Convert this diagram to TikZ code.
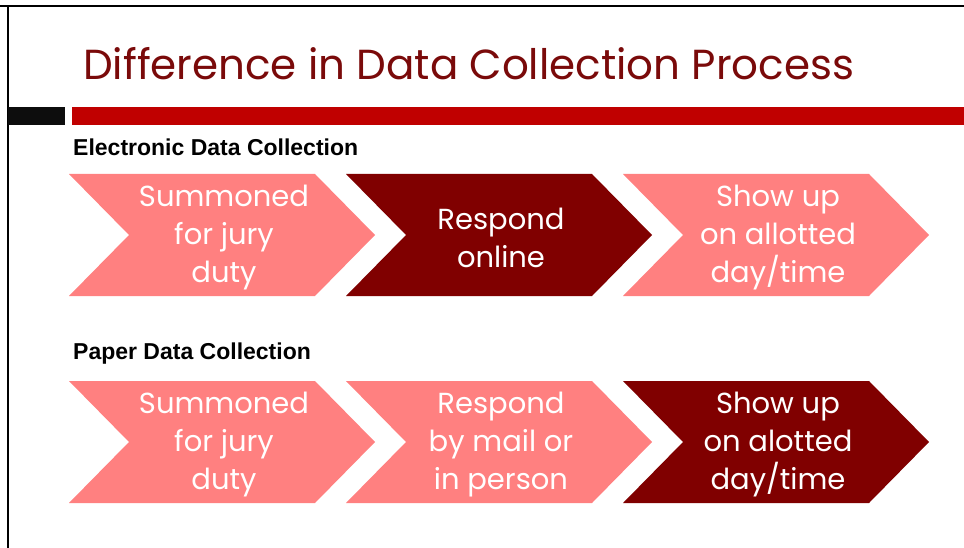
\documentclass[tikz,border=0pt]{standalone}
\usepackage{fontspec}
\setmainfont{Poppins}
\newfontfamily\arialfont{Liberation Sans}
\definecolor{pinkc}{HTML}{FF8080}
\definecolor{darkc}{HTML}{800000}
\definecolor{titlec}{HTML}{7A0A0A}
\definecolor{barred}{HTML}{C00000}
\definecolor{barblack}{HTML}{0D0D0D}
\newcommand\mychev[4]{% x, midy, color, name
  \fill[#3] (#1,#2-61) -- (#1+246,#2-61) -- (#1+306,#2) -- (#1+246,#2+61)
     -- (#1,#2+61) -- (#1+60,#2) -- cycle;
  \coordinate (#4) at (#1+155,#2+2.5);
}
\tikzset{
  chevtext/.style={text=white, align=center, font=\fontsize{29}{38}\selectfont, inner sep=0pt},
  heading/.style={anchor=base west, font=\arialfont\bfseries\fontsize{23}{27}\selectfont, inner sep=0pt},
}
\begin{document}
\begin{tikzpicture}[x=1pt,y=-1pt]
\useasboundingbox (0,0) rectangle (964,548);
\fill[white] (0,0) rectangle (964,548);
% frame lines
\draw[line width=1.6pt] (0,6) -- (964,6);
\draw[line width=1.6pt] (8,6) -- (8,548);
% title
\node[anchor=base west, inner sep=0pt, text=titlec, font=\fontsize{42}{50}\selectfont] (title) at (83,80) {Difference in Data Collection Process};
% bars
\fill[barblack] (8,107) rectangle (65,125);
\fill[barred] (72,107) rectangle (964,125);
% headings
\node[heading] (h1) at (73,156) {Electronic Data Collection};
\node[heading] (h2) at (73,359) {Paper Data Collection};
% row 1
\mychev{69}{235}{pinkc}{c11}
\mychev{346}{235}{darkc}{c12}
\mychev{623}{235}{pinkc}{c13}
\node[chevtext] (t11) at (c11) {Summoned\\for jury\\duty};
\node[chevtext] (t12) at (c12) {Respond\\online};
\node[chevtext] (t13) at (c13) {Show up\\on allotted\\day/time};
% row 2
\mychev{69}{442}{pinkc}{c21}
\mychev{346}{442}{pinkc}{c22}
\mychev{623}{442}{darkc}{c23}
\node[chevtext] (t21) at (c21) {Summoned\\for jury\\duty};
\node[chevtext] (t22) at (c22) {Respond\\by mail or\\in person};
\node[chevtext] (t23) at (c23) {Show up\\on alotted\\day/time};
\end{tikzpicture}
\end{document}
